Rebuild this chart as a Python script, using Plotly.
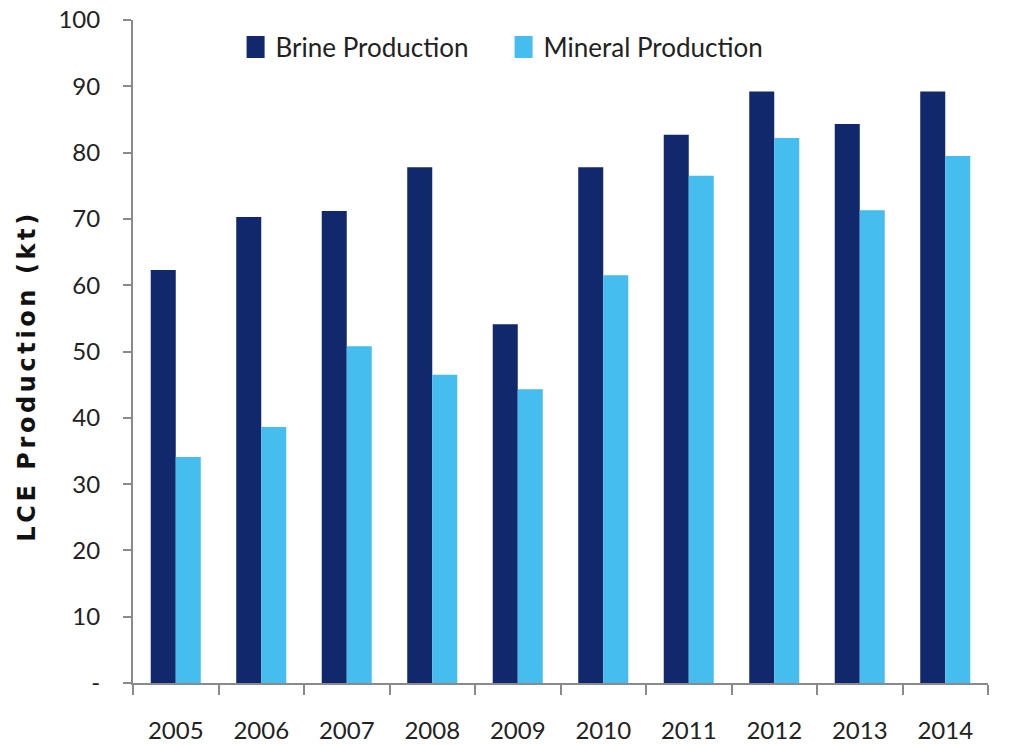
import plotly.graph_objects as go

years = ["2005", "2006", "2007", "2008", "2009", "2010", "2011", "2012", "2013", "2014"]
brine = [62.3, 70.3, 71.2, 77.8, 54.1, 77.8, 82.7, 89.2, 84.3, 89.2]
mineral = [34.1, 38.6, 50.8, 46.5, 44.3, 61.5, 76.5, 82.2, 71.3, 79.5]
y_ticks = [0, 10, 20, 30, 40, 50, 60, 70, 80, 90, 100]
y_tick_labels = ["-", "10", "20", "30", "40", "50", "60", "70", "80", "90", "100"]
y_title = "LCE Production (kt)"

FONT = "Lato"
fig = go.Figure()
fig.add_trace(go.Bar(name="Brine Production", x=years, y=brine, marker_color="#11296C",
                     marker_line_width=0))
fig.add_trace(go.Bar(name="Mineral Production", x=years, y=mineral, marker_color="#45BDEE",
                     marker_line_width=0))

fig.update_layout(
    width=1010, height=747,
    margin=dict(l=133, r=22, t=20, b=64),
    paper_bgcolor="white", plot_bgcolor="white",
    barmode="group", bargap=0.415, bargroupgap=0,
    font=dict(family=FONT, size=23, color="#222222"),
    showlegend=True,
    legend=dict(orientation="h", x=0.12, y=0.959, xanchor="left", yanchor="middle",
                bgcolor="rgba(0,0,0,0)", font=dict(family=FONT, size=26, color="#222222"),
                traceorder="normal", itemwidth=30, entrywidth=223, entrywidthmode="pixels"),
    xaxis=dict(type="category", showline=True, linecolor="#8a8a8a", linewidth=2,
               ticks="outside", tickson="boundaries", ticklen=10, tickcolor="#8a8a8a",
               tickwidth=2, showgrid=False, ticklabelstandoff=25, automargin=False,
               tickfont=dict(family=FONT, size=24, color="#222222")),
    yaxis=dict(range=[0, 100], tickvals=y_ticks, ticktext=y_tick_labels,
               showline=True, linecolor="#8a8a8a", linewidth=2, ticks="outside",
               ticklen=8, tickcolor="#8a8a8a", tickwidth=2, showgrid=False,
               zeroline=False, ticklabelstandoff=18, automargin=False,
               tickfont=dict(family=FONT, size=24, color="#222222")),
    annotations=[dict(text="<b>" + y_title + "</b>", xref="paper", yref="paper",
                      x=-0.1234, y=0.463, xanchor="center", yanchor="middle",
                      textangle=-90, showarrow=False,
                      font=dict(family="DejaVu Sans", size=24, color="#111111"))],
)

post = """
document.body.style.margin='0';
document.querySelectorAll('.annotation-text').forEach(function(t){t.style.letterSpacing='3.6px';});
document.querySelectorAll('.legendpoints path').forEach(function(p){p.setAttribute('d','M9,11H-9V-11H9Z');});
"""
fig.write_html("out.html", post_script=post, config={"displayModeBar": False})
